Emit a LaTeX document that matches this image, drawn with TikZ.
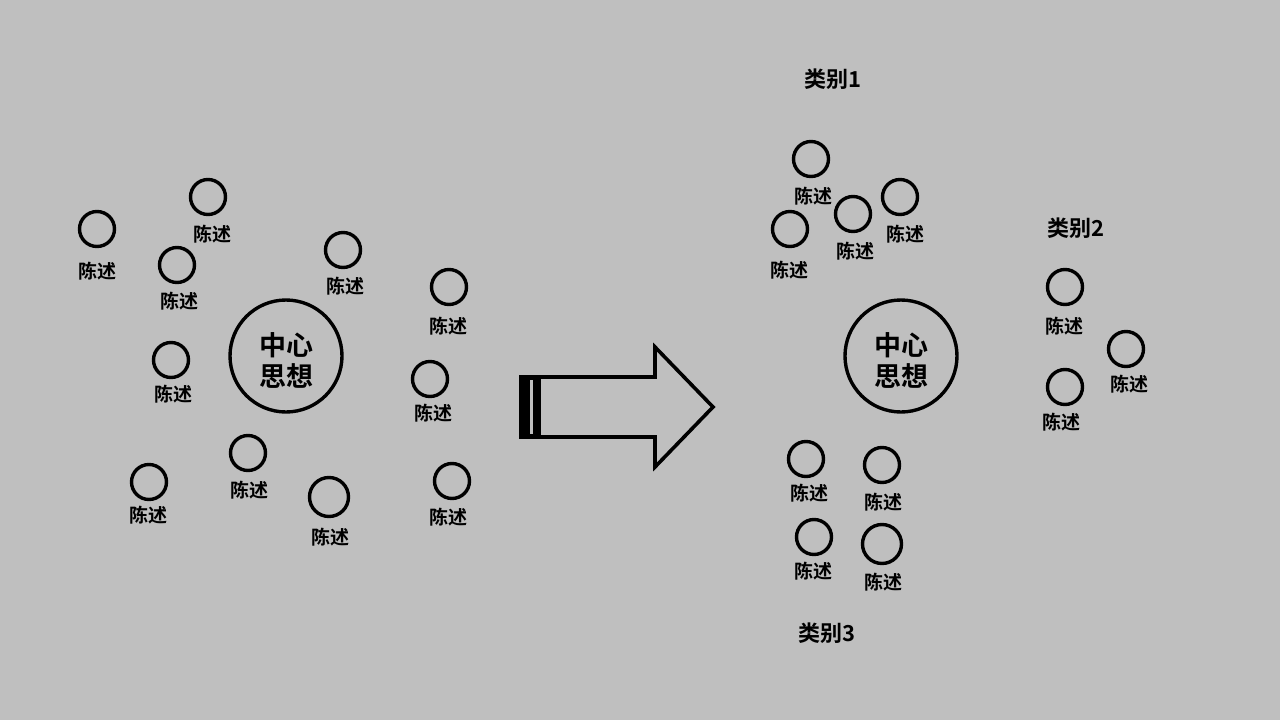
\documentclass[tikz,border=0pt]{standalone}
\usepackage{fontspec}
\setmainfont{Noto Sans CJK SC}[BoldFont={Noto Sans CJK SC Bold}]
\begin{document}
\begin{tikzpicture}[x=1pt,y=-1pt,
  dot/.style={circle,draw=black,line width=3.4pt,minimum size=35pt,inner sep=0pt},
  bigdot/.style={dot,minimum size=39pt},
  core/.style={circle,draw=black,line width=3.4pt,minimum size=112pt,inner sep=0pt},
  coretext/.style={font=\fontsize{27}{31}\selectfont\bfseries,align=center,inner sep=0pt},
  lbl/.style={font=\fontsize{19}{21}\selectfont\bfseries,inner sep=0pt},
  cat/.style={font=\fontsize{22}{24}\selectfont\bfseries,inner sep=0pt}]
\fill[fill={rgb,255:red,191;green,191;blue,191}] (0,0) rectangle (1280,720);
\useasboundingbox (0,0) rectangle (1280,720);
% left group
\node[core] (cL) at (286,356) {};
\node[coretext] (cLt) at (286,360) {中心\\思想};
\node[dot] (a1) at (97,229) {};   \node[lbl] (t1) at (97,271) {陈述};
\node[dot] (a2) at (208,197) {};  \node[lbl] (t2) at (212,234) {陈述};
\node[dot] (a3) at (177,265) {};  \node[lbl] (t3) at (179,301) {陈述};
\node[dot] (a4) at (343,250) {};  \node[lbl] (t4) at (345,286) {陈述};
\node[dot] (a5) at (449,287) {};  \node[lbl] (t5) at (448,326) {陈述};
\node[dot] (a6) at (171,360) {};  \node[lbl] (t6) at (173,394) {陈述};
\node[dot] (a7) at (430,379) {};  \node[lbl] (t7) at (433,413) {陈述};
\node[dot] (a8) at (248,453) {};  \node[lbl] (t8) at (249,490) {陈述};
\node[dot] (a9) at (149,482) {};  \node[lbl] (t9) at (148,515) {陈述};
\node[bigdot] (a10) at (329,497) {}; \node[lbl] (t10) at (330,537) {陈述};
\node[dot] (a11) at (452,481) {}; \node[lbl] (t11) at (448,517) {陈述};
% arrow
\draw[line width=3.6pt,line join=miter] (521,377) -- (655,377) -- (655,347) -- (713,407) -- (655,467) -- (655,437) -- (521,437) -- cycle;
\fill[black] (519,375.2) rectangle (541,438.8);
\draw[line width=2.6pt,draw={rgb,255:red,191;green,191;blue,191}] (531.5,380) -- (531.5,434);
% right group
\node[core] (cR) at (901,356) {};
\node[coretext] (cRt) at (901,360) {中心\\思想};
\node[cat] (k1) at (833,79) {类别1};
\node[dot] (b1) at (811,159) {};  \node[lbl] (u1) at (813,196) {陈述};
\node[dot] (b2) at (900,197) {};  \node[lbl] (u2) at (905,234) {陈述};
\node[dot] (b3) at (853,214) {};  \node[lbl] (u3) at (855,251) {陈述};
\node[dot] (b4) at (790,229) {};  \node[lbl] (u4) at (789,270) {陈述};
\node[cat] (k2) at (1076,228) {类别2};
\node[dot] (b5) at (1065,287) {}; \node[lbl] (u5) at (1064,326) {陈述};
\node[dot] (b6) at (1126,349) {}; \node[lbl] (u6) at (1129,384) {陈述};
\node[dot] (b7) at (1065,387) {}; \node[lbl] (u7) at (1061,422) {陈述};
\node[cat] (k3) at (827,633) {类别3};
\node[dot] (b8) at (806,459) {};  \node[lbl] (u8) at (809,493) {陈述};
\node[dot] (b9) at (882,465) {};  \node[lbl] (u9) at (883,502) {陈述};
\node[dot] (b10) at (814,537) {}; \node[lbl] (u10) at (813,571) {陈述};
\node[bigdot] (b11) at (882,544) {}; \node[lbl] (u11) at (883,582) {陈述};
\end{tikzpicture}
\end{document}
